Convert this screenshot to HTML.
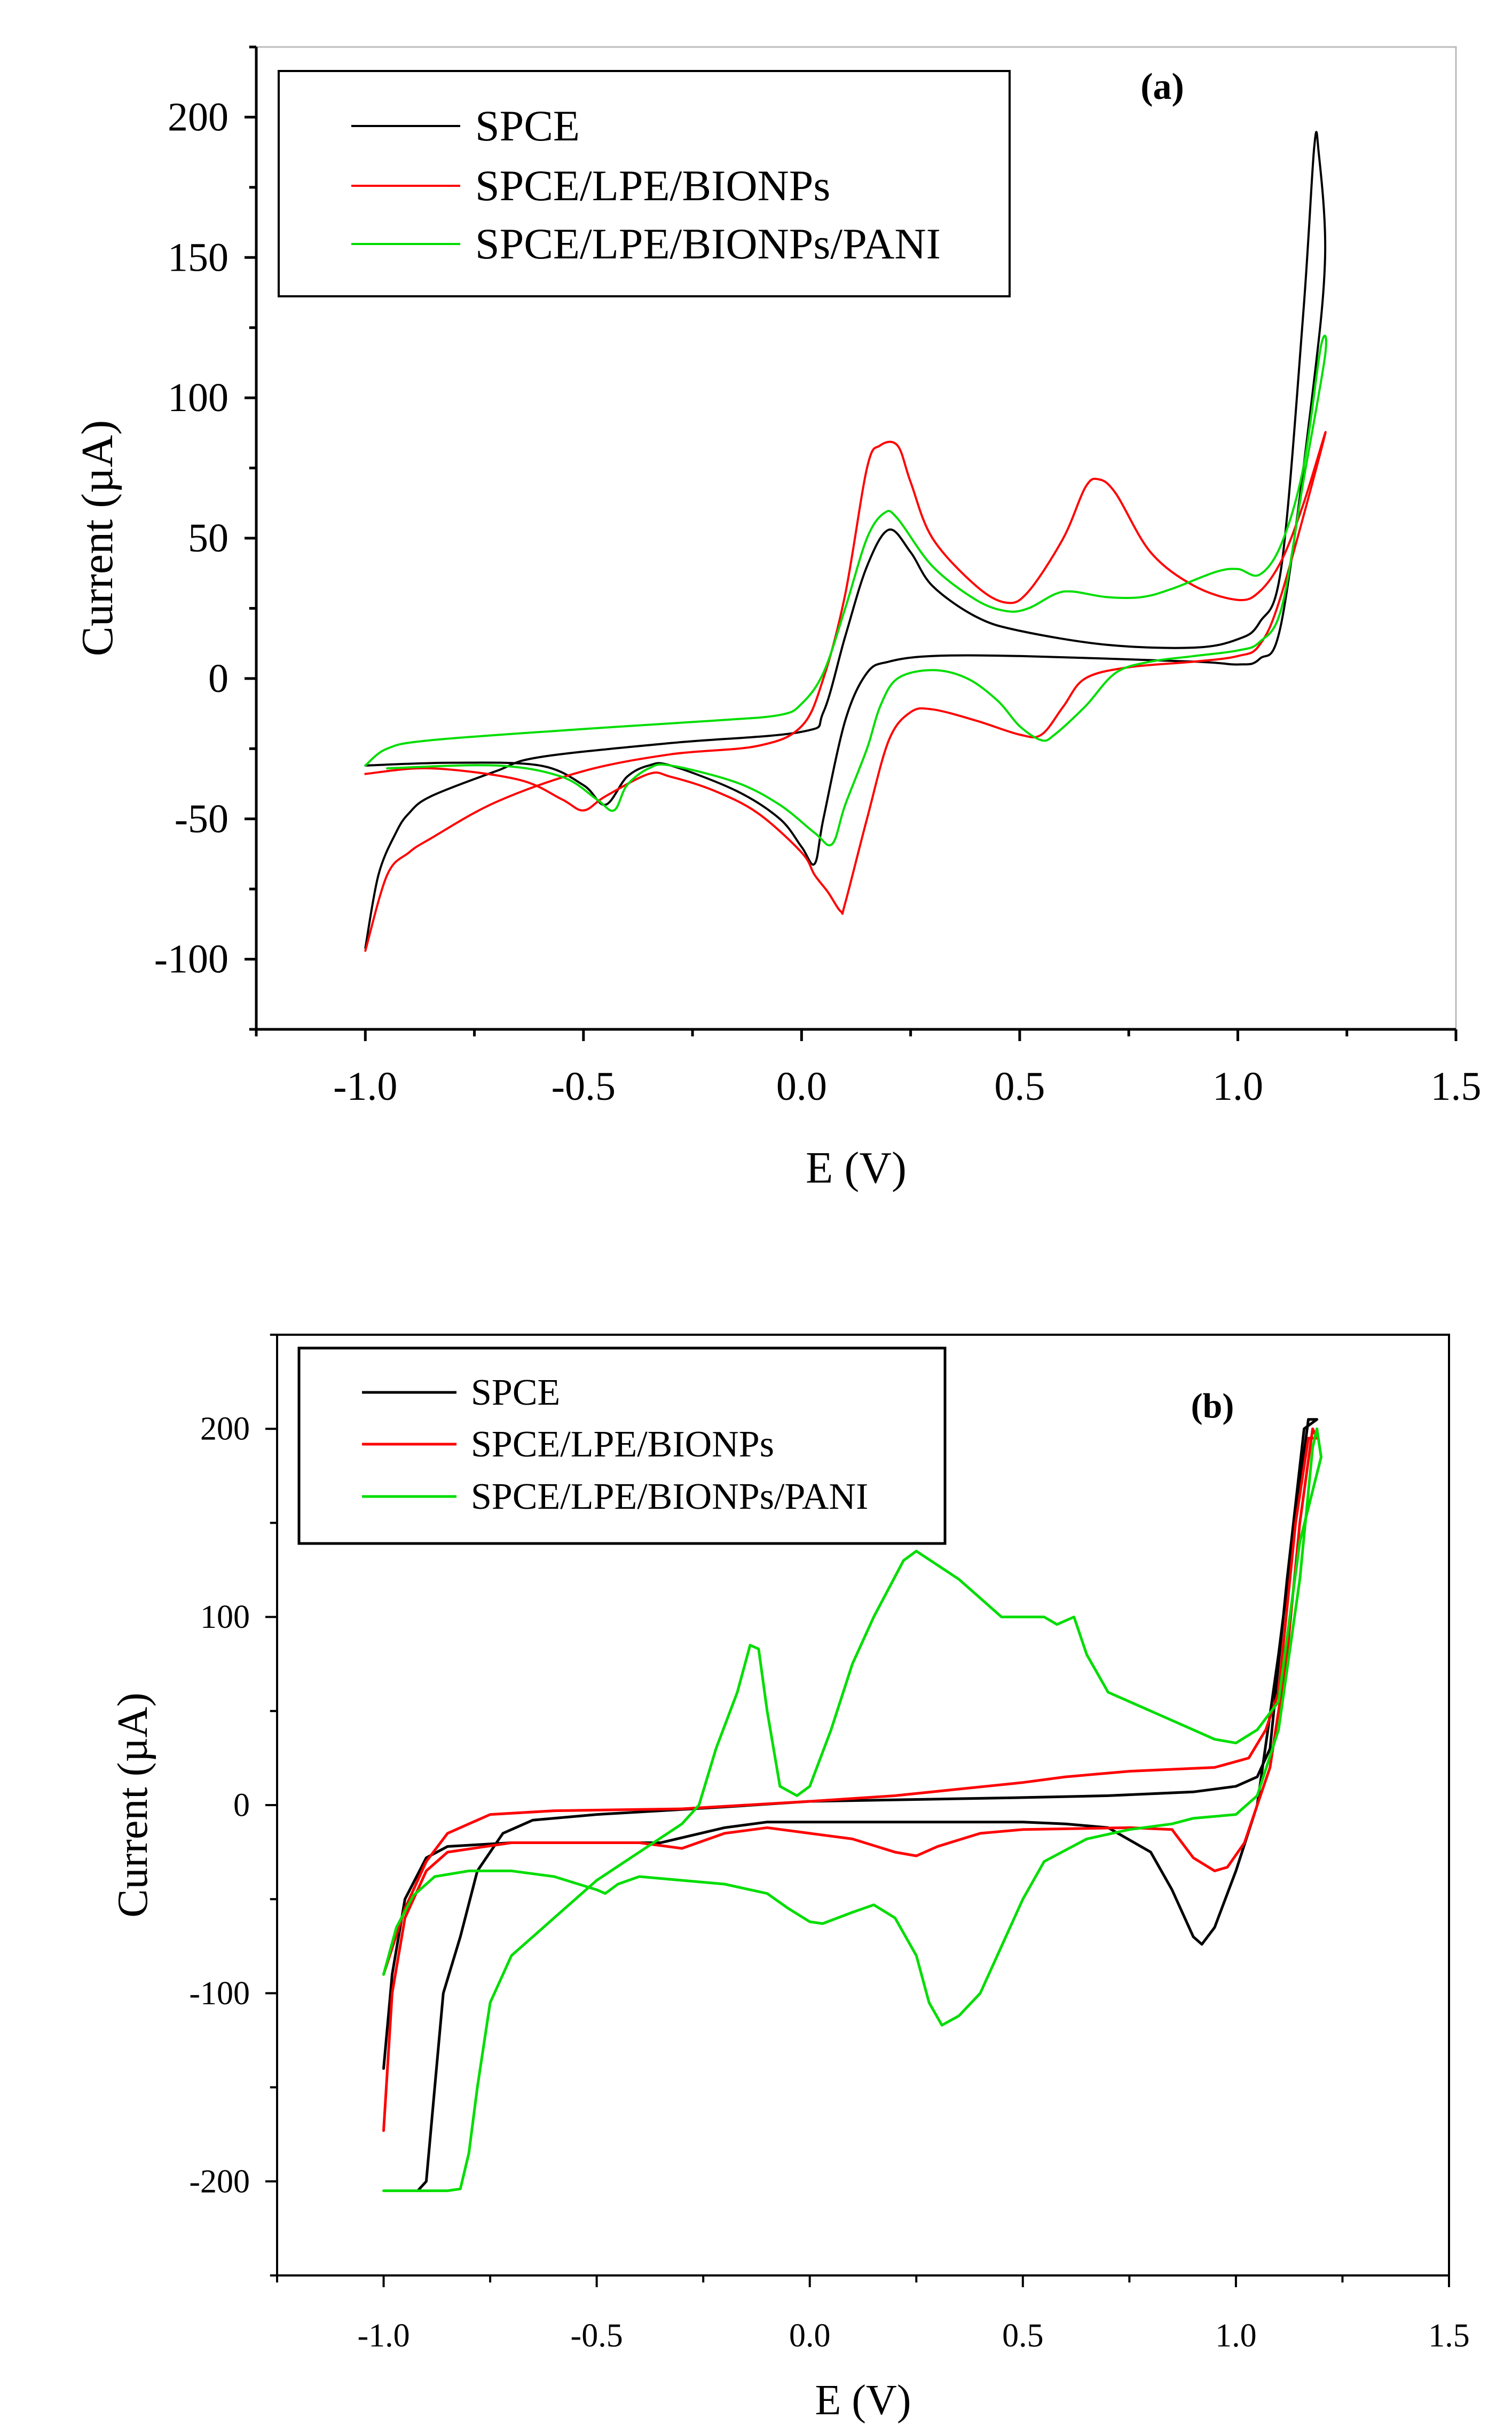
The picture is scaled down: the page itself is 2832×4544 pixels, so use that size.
<!DOCTYPE html>
<html><head><meta charset="utf-8"><style>
html,body{margin:0;padding:0;background:#fff}
svg{display:block}
text{font-family:"Liberation Serif",serif;fill:#000}
</style></head><body>
<svg id="s" width="2832" height="4544" viewBox="0 0 2832 4544" xmlns="http://www.w3.org/2000/svg">
<g id="ga"></g>
<g id="gb"></g>
</svg>
<script>
// ---- Chart (a) data ----
const aBlackE=[-1,-0.97,-0.93,-0.9,-0.85,-0.7,-0.6,-0.3,0,0.05,0.1,0.15,0.2,0.25,0.3,0.4,0.5,0.7,0.9,1.0,1.05,1.1,1.15,1.175,1.185,1.2,1.17,1.1,1.05,1.0,0.9,0.5,0.3,0.2,0.15,0.1,0.05,0.03,0,-0.05,-0.15,-0.3,-0.35,-0.4,-0.45,-0.5,-0.6,-0.8,-1.0];
const aBlackI=[-96,-70,-55,-48,-42,-33,-28,-23,-19,-12,15,40,53,45,33,22,17,12,11,14,20,40,130,189,188,150,100,20,7,5,6,8,8,6,2,-15,-50,-66,-60,-50,-40,-31,-31,-35,-45,-38,-31,-30,-31];
const aRedE=[-1,-0.95,-0.9,-0.85,-0.7,-0.5,-0.3,-0.1,0,0.05,0.1,0.15,0.18,0.22,0.25,0.3,0.4,0.47,0.52,0.6,0.65,0.68,0.72,0.8,0.9,1.0,1.05,1.1,1.15,1.2,1.1,1.05,1.0,0.9,0.75,0.65,0.6,0.55,0.5,0.4,0.3,0.25,0.2,0.15,0.1,0.09,0.06,0.03,0,-0.1,-0.2,-0.3,-0.35,-0.45,-0.5,-0.55,-0.65,-0.85,-1.0];
const aRedI=[-97,-70,-62,-57,-44,-33,-27,-24,-17,0,30,75,83,83,70,50,33,27,31,50,68,71,66,45,33,28,31,42,62,87,30,12,8,6,4,0,-10,-20,-20,-15,-11,-12,-22,-50,-80,-83,-76,-70,-62,-48,-40,-35,-34,-42,-47,-43,-36,-32,-34];
const aGreenE=[-1,-0.95,-0.85,-0.5,-0.2,-0.05,0,0.05,0.1,0.15,0.19,0.22,0.3,0.4,0.47,0.52,0.58,0.62,0.7,0.78,0.85,0.95,1.0,1.05,1.1,1.15,1.19,1.2,1.15,1.1,1.05,1.0,0.9,0.8,0.72,0.65,0.58,0.55,0.5,0.45,0.38,0.3,0.22,0.18,0.15,0.1,0.07,0.03,-0.05,-0.15,-0.3,-0.35,-0.4,-0.43,-0.47,-0.55,-0.7,-0.95];
const aGreenI=[-31,-25,-22,-18,-15,-13,-9,2,25,50,59,57,40,28,24,25,30,31,29,29,32,38,39,37,48,75,118,115,70,25,13,10,8,6,2,-10,-20,-22,-17,-8,0,3,0,-10,-25,-45,-59,-55,-45,-37,-31,-32,-38,-47,-43,-35,-31,-32];
const aXTicks=[-1.0,-0.5,0.0,0.5,1.0,1.5];
const aYTicks=[-100,-50,0,50,100,150,200];
// ---- Chart (b) data ----
const bBlackE=[-1,-0.98,-0.95,-0.9,-0.85,-0.7,-0.5,-0.35,-0.2,-0.1,0.5,0.6,0.7,0.8,0.85,0.9,0.92,0.95,1.0,1.05,1.1,1.15,1.17,1.19,1.16,1.12,1.08,1.05,1.0,0.9,0.7,0.5,0,-0.2,-0.5,-0.65,-0.72,-0.78,-0.82,-0.86,-0.88,-0.9,-0.92];
const bBlackI=[-140,-90,-50,-28,-22,-20,-20,-20,-12,-9,-9,-10,-12,-25,-45,-70,-74,-65,-35,0,80,170,205,205,200,120,30,15,10,7,5,4,2,-1,-5,-8,-15,-35,-70,-100,-150,-200,-205];
const bRedE=[-1,-0.98,-0.95,-0.9,-0.85,-0.7,-0.4,-0.3,-0.2,-0.1,0,0.1,0.2,0.25,0.3,0.4,0.5,0.75,0.85,0.9,0.95,0.98,1.02,1.08,1.12,1.15,1.18,1.19,1.17,1.14,1.1,1.07,1.03,0.95,0.75,0.6,0.5,0.2,0,-0.3,-0.6,-0.75,-0.85,-0.9,-0.95,-1.0];
const bRedI=[-173,-100,-60,-35,-25,-20,-20,-23,-15,-12,-15,-18,-25,-27,-22,-15,-13,-12,-13,-28,-35,-33,-20,20,80,150,200,195,195,150,60,40,25,20,18,15,12,5,2,-2,-3,-5,-15,-30,-55,-90];
const bGreenE=[-1,-0.97,-0.93,-0.88,-0.8,-0.7,-0.6,-0.5,-0.48,-0.45,-0.4,-0.3,-0.2,-0.1,-0.05,0,0.03,0.1,0.15,0.2,0.25,0.28,0.31,0.35,0.4,0.45,0.5,0.55,0.65,0.75,0.85,0.9,1.0,1.05,1.1,1.15,1.18,1.19,1.2,1.15,1.1,1.05,1.0,0.95,0.85,0.75,0.7,0.65,0.62,0.58,0.55,0.45,0.35,0.25,0.22,0.15,0.1,0.05,0,-0.03,-0.07,-0.1,-0.12,-0.14,-0.17,-0.22,-0.26,-0.3,-0.4,-0.5,-0.6,-0.7,-0.75,-0.78,-0.8,-0.82,-0.85,-1.0];
const bGreenI=[-90,-65,-48,-38,-35,-35,-38,-45,-47,-42,-38,-40,-42,-47,-55,-62,-63,-57,-53,-60,-80,-105,-117,-112,-100,-75,-50,-30,-18,-13,-10,-7,-5,5,40,120,190,200,185,140,55,40,33,35,45,55,60,80,100,96,100,100,120,135,130,100,75,40,10,5,10,50,83,85,60,30,0,-10,-25,-40,-60,-80,-105,-150,-185,-204,-205,-205];
const bXTicks=[-1.0,-0.5,0.0,0.5,1.0,1.5];
const bYTicks=[-200,-100,0,100,200];

const NS='http://www.w3.org/2000/svg';
function mk(parent,tag,attrs,txt){const e=document.createElementNS(NS,tag);for(const k in attrs)e.setAttribute(k,attrs[k]);if(txt!==undefined)e.textContent=txt;parent.appendChild(e);return e;}
function fmtX(v){return v.toFixed(1);}
function smoothPath(P){
  let d=`M${P[0][0].toFixed(1)},${P[0][1].toFixed(1)}`;
  for(let i=0;i<P.length-1;i++){
    const p0=P[Math.max(0,i-1)],p1=P[i],p2=P[i+1],p3=P[Math.min(P.length-1,i+2)];
    const c1x=p1[0]+(p2[0]-p0[0])/6,c1y=p1[1]+(p2[1]-p0[1])/6;
    const c2x=p2[0]-(p3[0]-p1[0])/6,c2y=p2[1]-(p3[1]-p1[1])/6;
    d+=` C${c1x.toFixed(1)},${c1y.toFixed(1)} ${c2x.toFixed(1)},${c2y.toFixed(1)} ${p2[0].toFixed(1)},${p2[1].toFixed(1)}`;
  }
  return d;
}

function chart(g,cfg){
  const sx=v=>cfg.L+(v-cfg.x0)/(cfg.x1-cfg.x0)*(cfg.R-cfg.L);
  const sy=v=>cfg.B-(v-cfg.y0)/(cfg.y1-cfg.y0)*(cfg.B-cfg.T);
  const fr=mk(g,'rect',{x:cfg.L,y:cfg.T,width:cfg.R-cfg.L,height:cfg.B-cfg.T,fill:'none',stroke:cfg.frameColor,'stroke-width':cfg.frameW});
  
  
  const ax=mk(g,'path',{d:`M${cfg.L},${cfg.T} V${cfg.B} H${cfg.R}`,fill:'none',stroke:'#000','stroke-width':cfg.axisW});
  
  
  for(let v=cfg.x0;v<=cfg.x1+1e-9;v+=cfg.xMinor){
    const major=Math.abs(Math.round(v/cfg.xMajor)*cfg.xMajor-v)<1e-6;
    const t=mk(g,'line',{x1:sx(v),x2:sx(v),y1:cfg.B,y2:cfg.B+(major?cfg.tickLen:cfg.tickLen*0.6),stroke:'#000','stroke-width':cfg.axisW});
    
    
  }
  cfg.xTicks.forEach(v=>{
    const t=mk(g,'text',{x:sx(v),y:cfg.xLabY,'text-anchor':'middle','font-size':cfg.tickFont},fmtX(v));
    
    
  });
  for(let v=cfg.yMinStart;v<=cfg.y1+1e-9;v+=cfg.yMinor){
    const major=cfg.yTicks.includes(v);
    const t=mk(g,'line',{x1:cfg.L,x2:cfg.L-(major?cfg.tickLen:cfg.tickLen*0.6),y1:sy(v),y2:sy(v),stroke:'#000','stroke-width':cfg.axisW});
    
    
  }
  cfg.yTicks.forEach(v=>{
    const t=mk(g,'text',{x:cfg.yLabX,y:sy(v)+cfg.tickFont*0.33,'text-anchor':'end','font-size':cfg.tickFont},String(v));
    
    
  });
  const xt=mk(g,'text',{x:(cfg.L+cfg.R)/2,y:cfg.xTitleY,'text-anchor':'middle','font-size':cfg.titleFont},'E (V)');
  
  
  const yt=mk(g,'text',{x:0,y:0,'text-anchor':'middle','font-size':cfg.titleFont,transform:`translate(${cfg.yTitleX},${(cfg.T+cfg.B)/2}) rotate(-90)`},'Current (µA)');
  
  
  cfg.series.forEach(s=>{
    const P=s.E.map((e,i)=>[sx(e),sy(s.I[i])]);
    let p;
    if(cfg.smooth){
      p=mk(g,'path',{d:smoothPath(P),fill:'none',stroke:s.color,'stroke-width':cfg.lineW,'stroke-linejoin':'round','stroke-linecap':'round'});
    } else {
      p=mk(g,'polyline',{points:P.map(q=>q[0].toFixed(1)+','+q[1].toFixed(1)).join(' '),fill:'none',stroke:s.color,'stroke-width':cfg.lineW,'stroke-linejoin':'round','stroke-linecap':'round'});
    }
    
    
  });
  const lg=mk(g,'g',{});
  
  
  mk(lg,'rect',{x:cfg.leg.x,y:cfg.leg.y,width:cfg.leg.w,height:cfg.leg.h,fill:'#fff',stroke:'#000','stroke-width':cfg.leg.bw});
  cfg.series.forEach((s,i)=>{
    const y=cfg.leg.rows[i];
    const e=mk(lg,'g',{});
    
    
    mk(e,'line',{x1:cfg.leg.l1,x2:cfg.leg.l2,y1:y,y2:y,stroke:s.color,'stroke-width':cfg.lineW});
    mk(e,'text',{x:cfg.leg.tx,y:y+cfg.leg.font*0.33,'font-size':cfg.leg.font},s.label);
  });
  const pl=mk(g,'text',{x:cfg.panel[0],y:cfg.panel[1],'text-anchor':'middle','font-size':cfg.panel[2],'font-weight':'bold'},cfg.panel[3]);
  
  
}

chart(document.getElementById('ga'),{
  L:480,R:2727,T:88,B:1928,x0:-1.25,x1:1.5,y0:-125,y1:225,
  xMajor:0.5,xMinor:0.25,yMinor:25,yMinStart:-125,xTicks:aXTicks,yTicks:aYTicks,
  frameColor:'#bbb',frameW:3,axisW:5,tickLen:22,tickFont:76,titleFont:84,
  xLabY:2060,yLabX:428,xTitleY:2215,yTitleX:210,lineW:4,smooth:true,
  series:[{E:aBlackE,I:aBlackI,color:'#000',name:'spce-curve',label:'SPCE'},
          {E:aRedE,I:aRedI,color:'#f00',name:'spce-lpe-bionps-curve',label:'SPCE/LPE/BIONPs'},
          {E:aGreenE,I:aGreenI,color:'#0d0',name:'spce-lpe-bionps-pani-curve',label:'SPCE/LPE/BIONPs/PANI'}],
  leg:{x:522,y:133,w:1369,h:422,bw:4,rows:[236,348,457],l1:658,l2:862,tx:890,font:82},
  panel:[2177,185,70,'(a)']
});
chart(document.getElementById('gb'),{
  L:519,R:2714,T:2500,B:4262,x0:-1.25,x1:1.5,y0:-250,y1:250,
  xMajor:0.5,xMinor:0.25,yMinor:50,yMinStart:-250,xTicks:bXTicks,yTicks:bYTicks,
  frameColor:'#000',frameW:4,axisW:4,tickLen:22,tickFont:62,titleFont:80,
  xLabY:4395,yLabX:468,xTitleY:4522,yTitleX:275,lineW:5,smooth:false,
  series:[{E:bBlackE,I:bBlackI,color:'#000',name:'spce-curve',label:'SPCE'},
          {E:bRedE,I:bRedI,color:'#f00',name:'spce-lpe-bionps-curve',label:'SPCE/LPE/BIONPs'},
          {E:bGreenE,I:bGreenI,color:'#0d0',name:'spce-lpe-bionps-pani-curve',label:'SPCE/LPE/BIONPs/PANI'}],
  leg:{x:560,y:2525,w:1210,h:366,bw:5,rows:[2608,2705,2803],l1:678,l2:855,tx:882,font:70},
  panel:[2271,2655,66,'(b)']
});
</script>
</body></html>
